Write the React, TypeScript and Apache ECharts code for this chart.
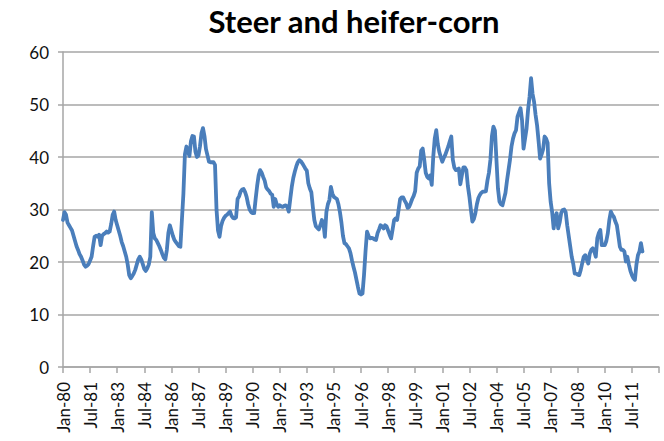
import React, { useEffect, useRef } from "react";
import * as echarts from "echarts";

const TITLE = "Steer and heifer-corn";
const MONTHS = ["Jan", "Feb", "Mar", "Apr", "May", "Jun", "Jul", "Aug", "Sep", "Oct", "Nov", "Dec"];
const START_YEAR = 1980;
const AXIS_MONTHS = 397; // Jan-80 .. Jan-13 (axis end)
const LABEL_STEP = 18;
const Y_TICKS = [0, 10, 20, 30, 40, 50, 60];

// Monthly ratio values, Jan-80 onward
const values1980_1985 = [
  28.0, 29.5, 29.0, 27.5, 27.0, 26.5, 26.0, 25.0, 24.0, 23.0,
  22.3, 21.5, 21.0, 20.3, 19.5, 19.1, 19.3, 19.6, 20.3, 21.0,
  23.0, 24.8, 25.0, 24.8, 25.2, 23.2, 25.0, 25.3, 25.5, 25.8,
  25.6, 25.8, 27.2, 29.0, 29.6, 28.0, 27.0, 26.0, 25.0, 23.8,
  23.0, 22.0, 21.0, 19.5, 17.5, 16.9, 17.3, 17.8, 18.5, 19.5,
  20.5, 21.0, 20.5, 19.6, 18.7, 18.3, 18.8, 19.5, 21.0, 29.5,
  25.5, 24.5, 24.2, 23.6, 23.0, 22.3, 21.5, 20.8,
];
const values1985_1991 = [
  20.5, 22.3, 25.5, 27.0, 26.0, 25.0, 24.2, 23.8, 23.4, 23.0,
  22.9, 28.0, 33.0, 40.5, 42.0, 41.0, 40.2, 43.0, 44.0, 43.9,
  41.0, 40.0, 40.3, 42.0, 44.5, 45.5, 44.0, 41.5, 40.3, 39.1,
  39.0, 39.0, 39.0, 38.5, 30.0, 26.0, 24.8, 26.8, 27.8, 28.4,
  28.8, 29.0, 29.3, 29.6, 28.8, 28.4, 28.3, 28.5, 32.0, 32.5,
  33.4, 33.8, 33.9, 33.3, 32.4, 31.0, 30.0, 29.5, 29.3, 29.3,
  32.0, 34.5, 36.5, 37.5, 37.0, 36.2,
];
const values1991_1996 = [
  35.5, 34.2, 33.8, 33.5, 33.0, 32.8, 30.5, 32.0, 31.0, 30.5,
  30.8, 30.6, 30.5, 30.7, 30.8, 30.5, 29.6, 32.0, 34.3, 36.0,
  37.2, 38.2, 39.0, 39.4, 39.2, 38.8, 38.3, 37.8, 37.4, 35.0,
  34.0, 33.3, 30.5, 28.0, 26.8, 26.5, 26.2, 27.0, 28.0, 27.4,
  24.8, 29.5, 31.0, 31.8, 34.3, 33.0, 32.4, 32.2, 32.0, 31.0,
  29.5, 27.5, 25.0, 23.6, 23.4, 23.0, 22.6, 21.7, 20.3, 19.1,
  18.0, 16.6, 15.2, 14.0, 13.8, 14.0,
];
const values1996_2002 = [
  17.5, 22.0, 25.8, 25.0, 24.5, 24.6, 24.5, 24.3, 24.2, 25.5,
  26.2, 27.0, 26.8, 26.4, 27.0, 26.8, 26.0, 25.2, 24.5, 26.2,
  28.0, 28.3, 28.0, 30.0, 32.0, 32.3, 32.3, 31.7, 31.2, 30.3,
  30.5, 31.2, 32.0, 32.6, 33.5, 37.0, 37.8, 38.2, 41.2, 41.6,
  39.5, 37.0, 36.2, 35.9, 36.5, 34.7, 40.0, 43.5, 45.1, 42.5,
  41.0, 40.0, 39.1, 39.8, 40.4, 41.2, 42.0, 43.0, 43.9, 39.5,
  38.0, 37.5, 37.6, 37.8, 34.8, 36.5, 38.0,
];
const values2002_2007 = [
  38.0, 37.5, 34.5, 32.5, 30.0, 27.7, 28.2, 29.3, 31.0, 32.2,
  32.8, 33.2, 33.4, 33.4, 33.5, 35.5, 37.0, 39.5, 44.0, 45.8,
  45.0, 39.4, 34.0, 31.5, 31.0, 30.8, 32.0, 33.2, 35.5, 37.5,
  39.5, 42.0, 43.5, 44.5, 45.1, 47.7, 48.5, 49.3, 47.0, 41.6,
  43.5, 45.4, 49.0, 51.5, 55.0, 52.0, 50.5, 48.0, 46.0, 43.0,
  39.7, 40.5, 41.5, 43.9, 43.5, 42.7, 35.0, 31.5, 29.5, 26.4,
  28.5, 29.3, 26.4, 27.5, 29.3,
];
const values2007_2012 = [
  29.9, 30.0, 29.5, 27.0, 25.0, 23.0, 21.0, 19.7, 17.8, 17.8,
  17.6, 17.5, 18.5, 19.8, 21.0, 21.3, 20.5, 19.7, 21.6, 22.3,
  22.6, 22.0, 21.0, 24.5, 25.5, 26.1, 23.2, 23.2, 23.2, 24.0,
  25.5, 28.0, 29.6, 29.0, 28.6, 27.7, 27.0, 25.0, 22.9, 22.3,
  22.3, 22.0, 20.1, 21.0, 19.5, 18.3, 17.5, 16.9, 16.6, 19.5,
  21.3, 22.0, 23.6, 22.0,
];

const seriesValues = [
  ...values1980_1985,
  ...values1985_1991,
  ...values1991_1996,
  ...values1996_2002,
  ...values2002_2007,
  ...values2007_2012,
];

const categories = Array.from({ length: AXIS_MONTHS }, (_, i) => {
  const yy = (START_YEAR + Math.floor(i / 12)) % 100;
  return `${MONTHS[i % 12]}-${String(yy).padStart(2, "0")}`;
});

const FONT = "Lato, 'Open Sans', 'DejaVu Sans', sans-serif";

export default function App() {
  const ref = useRef<HTMLDivElement>(null);
  useEffect(() => {
    if (!ref.current) return;
    const chart = echarts.init(ref.current, undefined, { renderer: "svg" });
    chart.setOption({
      animation: false,
      backgroundColor: "#ffffff",
      title: {
        text: TITLE,
        left: 349,
        top: 0,
        textAlign: "center",
        textStyle: {
          fontFamily: FONT,
          fontSize: 31,
          fontWeight: "bold",
          color: "#000000",
        },
      },
      grid: { left: 63, right: 5, top: 52, bottom: 74, containLabel: false },
      xAxis: {
        type: "category",
        data: categories,
        boundaryGap: false,
        axisLine: { show: true, lineStyle: { color: "#a6a6a6", width: 1.5 } },
        axisTick: {
          show: true,
          length: 6,
          interval: (i: number) => i % LABEL_STEP === 0 || i === AXIS_MONTHS - 1,
          lineStyle: { color: "#a6a6a6", width: 1.5 },
        },
        axisLabel: {
          interval: (i: number) => i % LABEL_STEP === 0 && i < AXIS_MONTHS - 1,
          rotate: 90,
          margin: 15,
          fontFamily: FONT,
          fontSize: 17,
          color: "#111111",
        },
        splitLine: { show: false },
      },
      yAxis: {
        type: "value",
        min: Y_TICKS[0],
        max: Y_TICKS[Y_TICKS.length - 1],
        interval: 10,
        axisLine: { show: true, lineStyle: { color: "#a6a6a6", width: 1.5 } },
        axisTick: { show: true, length: 5, lineStyle: { color: "#a6a6a6", width: 1.5 } },
        axisLabel: {
          margin: 14,
          fontFamily: FONT,
          fontSize: 17,
          color: "#111111",
        },
        splitLine: { show: true, lineStyle: { color: "#a6a6a6", width: 1.5 } },
      },
      series: [
        {
          name: TITLE,
          type: "line",
          data: seriesValues,
          showSymbol: false,
          symbol: "none",
          lineStyle: { color: "#4a7ebb", width: 3.8, join: "round", cap: "round" },
          itemStyle: { color: "#4a7ebb" },
          z: 3,
        },
      ],
    });
    return () => chart.dispose();
  }, []);
  return (
    <div
      ref={ref}
      style={{ position: "fixed", left: 0, top: 0, width: 664, height: 441, background: "#fff" }}
    />
  );
}
